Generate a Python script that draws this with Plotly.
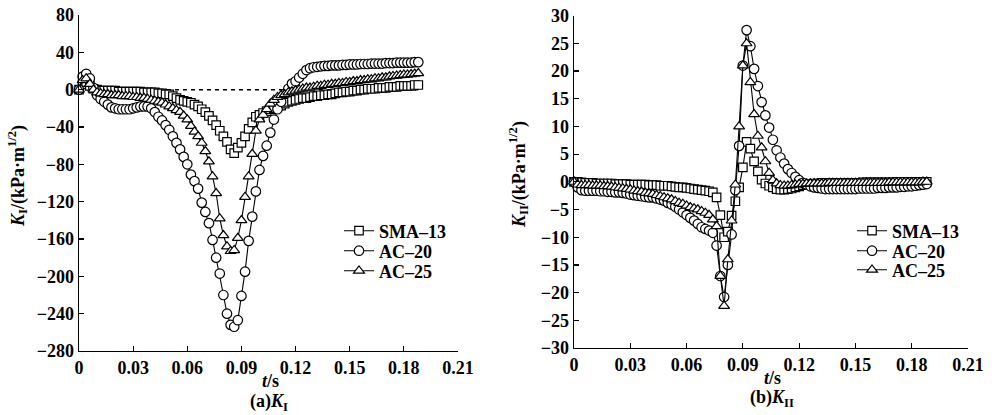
import plotly.graph_objects as go

# time (s)
t = [0.000, 0.002, 0.004, 0.006, 0.008, 0.010, 0.012, 0.014, 0.016, 0.018,
     0.020, 0.022, 0.024, 0.026, 0.028, 0.030, 0.032, 0.034, 0.036, 0.038,
     0.040, 0.042, 0.044, 0.046, 0.048, 0.050, 0.052, 0.054, 0.056, 0.058,
     0.060, 0.062, 0.064, 0.066, 0.068, 0.070, 0.072, 0.074, 0.076, 0.078,
     0.080, 0.082, 0.084, 0.086, 0.088, 0.090, 0.092, 0.094, 0.096, 0.098,
     0.100, 0.102, 0.104, 0.106, 0.108, 0.110, 0.112, 0.114, 0.116, 0.118,
     0.120, 0.122, 0.124, 0.126, 0.128, 0.130, 0.132, 0.134, 0.136, 0.138,
     0.140, 0.142, 0.144, 0.146, 0.148, 0.150, 0.152, 0.154, 0.156, 0.158,
     0.160, 0.162, 0.164, 0.166, 0.168, 0.170, 0.172, 0.174, 0.176, 0.178,
     0.180, 0.182, 0.184, 0.186, 0.188]

# (a) K_I
k1_sma13 = [0, 6, 8, 4, 1, 0, -1, -1, -1, -1,
            -1, -2, -2, -2, -2, -2, -2, -2, -3, -3,
            -3, -3, -4, -4, -5, -5, -7, -9, -11, -12,
            -13, -14, -16, -18, -21, -24, -28, -33, -38, -44,
            -50, -56, -64, -68, -62, -57, -50, -42, -35, -29,
            -27, -25, -23, -21, -20, -18, -17, -15, -13, -12,
            -11, -10, -9, -9, -8, -7, -7, -6, -6, -5,
            -5, -4, -3, -3, -2, -2, -1, -1, 0, 0,
            1, 1, 1, 2, 2, 2, 3, 3, 3, 4,
            4, 4, 4, 5, 5]
k1_ac20 = [0, 14, 17, 12, 2, -6, -10, -13, -16, -19,
           -20, -21, -21, -21, -21, -20, -19, -18, -18, -18,
           -20, -24, -29, -33, -38, -43, -50, -57, -64, -72,
           -80, -91, -98, -106, -121, -131, -143, -161, -180, -197,
           -220, -240, -252, -254, -247, -221, -195, -162, -136, -109,
           -86, -71, -60, -46, -32, -21, -13, -4.5, 1, 6.5,
           9, 13, 17, 21, 23, 24, 24.5, 25, 25.5, 25.5,
           26, 26, 26, 26.5, 26.5, 27, 27, 27, 27.5, 27.5,
           27.5, 28, 28, 28, 28, 28.5, 28.5, 28.5, 29, 29,
           29, 29, 29, 29.5, 29.5]
k1_ac25 = [0, 10, 12, 6, 0, -3, -4, -5, -5, -6,
           -6, -6, -7, -7, -7, -8, -8, -9, -9, -10,
           -11, -12, -13, -14, -16, -18, -20, -22, -24, -28,
           -32, -39, -45, -50, -57, -66, -77, -93, -111, -138,
           -156, -168, -173, -172, -159, -140, -115, -93, -69, -44,
           -32, -27, -21, -15, -11, -8, -6, -5, -3, -2,
           -1, 0, 1, 2, 2, 3, 4, 4, 5, 5,
           6, 6, 7, 7, 8, 8, 9, 9, 10, 10,
           11, 11, 12, 12, 13, 13, 14, 14.5, 15, 15.5,
           16, 16, 16.5, 17, 17.5]

# (b) K_II
k2_sma13 = [0, 0, -0.1, -0.2, -0.2, -0.2, -0.3, -0.3, -0.3, -0.3,
            -0.3, -0.4, -0.4, -0.4, -0.4, -0.5, -0.5, -0.5, -0.5, -0.5,
            -0.6, -0.6, -0.6, -0.7, -0.7, -0.7, -0.8, -0.9, -1.0, -1.0,
            -1.1, -1.2, -1.3, -1.4, -1.5, -1.6, -1.7, -1.9, -2.8, -6.0,
            -10.0, -9.0, -6.1, -3.5, -1.0, 2.6, 7.2, 6.0, 3.7, 1.9,
            0.4, -0.3, -0.7, -1.0, -1.3, -1.4, -1.4, -1.3, -1.2, -1.0,
            -0.8, -0.6, -0.5, -0.4, -0.3, -0.3, -0.2, -0.2, -0.2, -0.2,
            -0.2, -0.2, -0.2, -0.2, -0.2, -0.2, -0.2, -0.1, -0.1, -0.1,
            -0.1, -0.1, -0.1, -0.1, -0.1, -0.1, 0, 0, 0, 0,
            0, 0, 0, 0, 0]
k2_ac20 = [0, -1.0, -1.5, -1.6, -1.6, -1.6, -1.6, -1.7, -1.7, -1.8,
           -1.8, -1.9, -1.9, -2.0, -2.1, -2.3, -2.4, -2.5, -2.6, -2.7,
           -2.8, -2.8, -3.0, -3.2, -3.4, -3.8, -4.1, -4.5, -5.0, -5.5,
           -6.0, -6.5, -7.0, -7.6, -8.2, -8.5, -8.8, -9.2, -11.5, -17.0,
           -20.8, -15.0, -9.5, -1.5, 6.5, 21.0, 27.4, 24.5, 20.4, 17.3,
           14.4, 12.0, 9.8, 7.6, 5.7, 4.4, 3.3, 2.3, 1.6, 0.9,
           0.3, -0.2, -0.5, -0.8, -1.0, -1.1, -1.2, -1.3, -1.3, -1.3,
           -1.3, -1.3, -1.3, -1.3, -1.3, -1.3, -1.2, -1.2, -1.2, -1.2,
           -1.2, -1.1, -1.1, -1.1, -1.0, -1.0, -1.0, -0.9, -0.9, -0.8,
           -0.8, -0.7, -0.6, -0.5, -0.4]
k2_ac25 = [0, -0.5, -0.6, -0.6, -0.6, -0.7, -0.7, -0.7, -0.8, -0.8,
           -0.9, -1.0, -1.1, -1.2, -1.3, -1.4, -1.6, -1.7, -1.8, -2.0,
           -2.1, -2.2, -2.4, -2.6, -2.8, -3.0, -3.2, -3.5, -3.8, -4.0,
           -4.3, -4.6, -4.8, -5.0, -5.3, -5.6, -6.0, -6.8, -8.0, -17.0,
           -22.4, -14.0, -7.0, -0.5, 10.0, 21.0, 25.0, 18.0, 12.2, 8.3,
           6.2, 3.7, 1.6, 0.3, -0.3, -0.6, -0.7, -0.7, -0.6, -0.5,
           -0.4, -0.4, -0.3, -0.3, -0.3, -0.3, -0.3, -0.3, -0.2, -0.2,
           -0.2, -0.2, -0.2, -0.2, -0.2, -0.2, -0.2, -0.2, -0.2, -0.2,
           -0.2, -0.2, -0.2, -0.2, -0.1, -0.1, -0.1, -0.1, -0.1, -0.1,
           -0.1, -0.1, -0.1, 0, 0]

names = ["SMA–13", "AC–20", "AC–25"]
symbols = ["square", "circle", "triangle-up"]
sizes = [8.5, 9.5, 9.5]

x_ticks = [0, 0.03, 0.06, 0.09, 0.12, 0.15, 0.18, 0.21]
x_ticktext = ["0", "0.03", "0.06", "0.09", "0.12", "0.15", "0.18", "0.21"]
y1_ticks = [80, 40, 0, -40, -80, -120, -160, -200, -240, -280]
y1_ticktext = ["80", "40", "0", "−40", "−80", "−120", "−160", "−200", "−240", "−280"]
y2_ticks = [30, 25, 20, 15, 10, 5, 0, -5, -10, -15, -20, -25, -30]
y2_ticktext = ["30", "25", "20", "15", "10", "5", "0", "−5", "−10", "−15", "−20", "−25", "−30"]

FONT = "Liberation Serif, Times New Roman, serif"
W, H = 996, 415

fig = go.Figure()

# zero reference line in (a)
fig.add_trace(go.Scatter(x=[t[0], t[-1]], y=[0, 0], mode="lines",
                         line=dict(color="black", width=1.5, dash="4px,4px"),
                         showlegend=False, hoverinfo="skip", xaxis="x", yaxis="y"))

left_series = [k1_sma13, k1_ac20, k1_ac25]
right_series = [k2_sma13, k2_ac20, k2_ac25]

for i, ys in enumerate(left_series):
    fig.add_trace(go.Scatter(
        x=t, y=ys, name=names[i], mode="lines+markers",
        line=dict(color="black", width=1.1),
        marker=dict(symbol=symbols[i], size=sizes[i], color="white",
                    line=dict(color="black", width=1.2)),
        cliponaxis=False, xaxis="x", yaxis="y",
        legend="legend" if i == 0 else "legend%d" % (i + 1)))

for i, ys in enumerate(right_series):
    fig.add_trace(go.Scatter(
        x=t, y=ys, name=names[i], mode="lines+markers",
        line=dict(color="black", width=1.1),
        marker=dict(symbol=symbols[i], size=sizes[i], color="white",
                    line=dict(color="black", width=1.2)),
        cliponaxis=False, xaxis="x2", yaxis="y2",
        legend="legend%d" % (i + 4)))

tickfont = dict(family=FONT, size=18, color="black", weight="bold")
axis_common = dict(showline=True, linecolor="black", linewidth=1.3, showgrid=False,
                   zeroline=False, ticks="inside", ticklen=5, tickwidth=1.2,
                   tickcolor="black", tickfont=tickfont, mirror=False,
                   automargin=False, fixedrange=True)

layout = dict(
    template="none",
    width=W, height=H, autosize=False,
    margin=dict(l=0, r=0, t=0, b=0, pad=0, autoexpand=False),
    paper_bgcolor="white", plot_bgcolor="white",
    font=dict(family=FONT, size=18, color="black"),
    xaxis=dict(domain=[79 / W, 458 / W], range=[0, 0.21], anchor="y",
               tickvals=x_ticks, ticktext=x_ticktext, **axis_common),
    yaxis=dict(domain=[1 - 351 / H, 1 - 15 / H], range=[-280, 80], anchor="x",
               tickvals=y1_ticks, ticktext=y1_ticktext, **axis_common),
    xaxis2=dict(domain=[574 / W, 968 / W], range=[0, 0.21], anchor="y2",
                tickvals=x_ticks, ticktext=x_ticktext, **axis_common),
    yaxis2=dict(domain=[1 - 348 / H, 1 - 15.7 / H], range=[-30, 30], anchor="x2",
                tickvals=y2_ticks, ticktext=y2_ticktext, **axis_common),
)

legend_font = dict(family=FONT, size=18, color="black", weight="bold")
leg_pos = [(339, 231), (339, 251), (339, 271), (852, 231), (852, 251), (852, 270)]
for k, (px, py) in enumerate(leg_pos):
    key = "legend" if k == 0 else "legend%d" % (k + 1)
    layout[key] = dict(x=px / W, y=1 - py / H, xanchor="left", yanchor="middle",
                       bgcolor="rgba(0,0,0,0)", borderwidth=0, font=legend_font)

fig.update_layout(**layout)

ann_font = dict(family=FONT, size=18, color="black", weight="bold")
annotations = [
    dict(text="<i>K</i><sub>I</sub>/(kPa·m<sup>1/2</sup>)", x=17 / W, y=1 - 176 / H,
         textangle=-90),
    dict(text="<i>K</i><sub>II</sub>/(kPa·m<sup>1/2</sup>)", x=518 / W, y=1 - 175 / H,
         textangle=-90),
    dict(text="<i>t</i>/s", x=270 / W, y=1 - 381 / H),
    dict(text="(a)<i>K</i><sub>I</sub>", x=269 / W, y=1 - 402 / H),
    dict(text="<i>t</i>/s", x=772 / W, y=1 - 378 / H),
    dict(text="(b)<i>K</i><sub>II</sub>", x=772 / W, y=1 - 398 / H),
]
for a in annotations:
    fig.add_annotation(xref="paper", yref="paper", showarrow=False,
                       xanchor="center", yanchor="middle", font=ann_font, **a)

fig.write_html("out.html", config={"displayModeBar": False, "staticPlot": True},
               post_script="document.body.style.margin='0';document.body.style.overflow='hidden';")
